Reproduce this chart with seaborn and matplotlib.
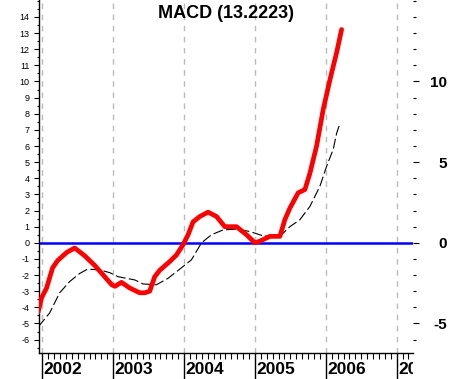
import numpy as np
import pandas as pd
import seaborn as sns
import matplotlib.pyplot as plt
from matplotlib.ticker import MultipleLocator, FixedLocator
from matplotlib.transforms import Bbox, TransformedBbox

sns.set_style('white')
plt.rcParams['font.family'] = ['Liberation Sans', 'DejaVu Sans']
plt.rcParams['axes.unicode_minus'] = False
plt.rcParams['text.color'] = 'black'
plt.rcParams['xtick.color'] = 'black'
plt.rcParams['ytick.color'] = 'black'

# MACD line (decimal year, value)
macd_x = [2001.94, 2001.99, 2002.06, 2002.145, 2002.216, 2002.343, 2002.456, 2002.597,
          2002.739, 2002.88, 2002.979, 2003.025, 2003.116, 2003.233, 2003.374, 2003.445,
          2003.515, 2003.586, 2003.657, 2003.798, 2003.893, 2003.986, 2004.057, 2004.127,
          2004.222, 2004.339, 2004.458, 2004.575, 2004.74, 2004.881, 2004.999, 2005.069,
          2005.21, 2005.352, 2005.422, 2005.493, 2005.61, 2005.705, 2005.775, 2005.87,
          2005.963, 2006.058, 2006.153, 2006.223]
macd_y = [-4.3, -3.4, -2.8, -1.55, -1.1, -0.6, -0.32, -0.8,
          -1.4, -2.1, -2.6, -2.7, -2.45, -2.8, -3.1, -3.1,
          -3.0, -2.1, -1.7, -1.16, -0.75, -0.12, 0.5, 1.3,
          1.63, 1.9, 1.63, 1.0, 1.0, 0.5, 0.0, 0.1,
          0.4, 0.4, 1.43, 2.15, 3.1, 3.3, 4.3, 6.0,
          8.26, 10.1, 11.8, 13.2223]

# signal line
sig_x = [2001.944, 2002.103, 2002.244, 2002.386, 2002.527, 2002.64, 2002.81, 2002.951,
         2003.068, 2003.304, 2003.421, 2003.61, 2003.774, 2003.986, 2004.105, 2004.246,
         2004.387, 2004.551, 2004.74, 2004.928, 2005.116, 2005.352, 2005.493, 2005.634,
         2005.775, 2005.916, 2006.011, 2006.105, 2006.153, 2006.2]
sig_y = [-5.2, -4.35, -3.1, -2.4, -1.9, -1.63, -1.68, -1.85,
         -2.1, -2.3, -2.55, -2.6, -2.2, -1.47, -1.05, 0.0,
         0.5, 0.8, 0.85, 0.7, 0.43, 0.4, 1.0, 1.43,
         2.25, 3.5, 4.74, 5.8, 6.8, 7.4]

years = [2002, 2003, 2004, 2005, 2006, 2007]
title = 'MACD (13.2223)'

macd_df = pd.DataFrame({'x': macd_x, 'y': macd_y})
sig_df = pd.DataFrame({'x': sig_x, 'y': sig_y})

fig = plt.figure(figsize=(4.51, 3.79), dpi=100)
ax = fig.add_axes([38.5 / 451, 26 / 379, 374.2 / 451, 353 / 379])

x0, x1 = 2001.946, 2007.226
y0, y1 = -6.83, 15.05
ax.set_xlim(x0, x1)
ax.set_ylim(y0, y1)

# gridlines and zero line
ax.xaxis.set_major_locator(FixedLocator(years))
ax.grid(axis='x', color='#bbbbbb', linestyle=(0, (4, 4)), linewidth=1)
ax.grid(axis='y', visible=False)
ax.set_axisbelow(True)
ax.axhline(0, color='#0000ff', lw=1.8, zorder=2)

sns.lineplot(data=sig_df, x='x', y='y', ax=ax, color='black', lw=0.8,
             linestyle=(0, (9, 3)), zorder=3)
sns.lineplot(data=macd_df, x='x', y='y', ax=ax, color='#ff0000', lw=3.4, zorder=4)
ax.set(xlabel='', ylabel='')

for s in ['top', 'right']:
    ax.spines[s].set_visible(False)
for s in ['left', 'bottom']:
    ax.spines[s].set_color('black')
    ax.spines[s].set_linewidth(1)

# x axis: monthly minor ticks, long year ticks, labels drawn next to them
months = [2002 + k / 12 for k in range(0, 63)]
ax.xaxis.set_minor_locator(FixedLocator(months))
ax.tick_params(axis='x', which='minor', direction='out', length=4.5, width=0.8,
               color='black', bottom=True)
ax.tick_params(axis='x', which='major', direction='out', length=19, width=1,
               color='black', bottom=True, labelbottom=False)
clip = TransformedBbox(Bbox([[0, -1], [1, 1]]), ax.transAxes)
for yr in years:
    t = ax.text(yr + 1.5 / 70.8, -9 / 353, str(yr), transform=ax.get_xaxis_transform(),
                ha='left', va='top', fontsize=12.5, fontweight='bold', color='black')
    t.set_clip_box(clip)
    t.set_clip_on(True)

# left y axis
ax.set_yticks(range(-6, 15))
ax.yaxis.set_minor_locator(MultipleLocator(0.5))
ax.tick_params(axis='y', which='major', direction='out', length=3.6, width=0.8,
               color='black', left=True, labelsize=6.5, pad=3)
ax.tick_params(axis='y', which='minor', direction='out', length=1.6, width=0.8,
               color='black', left=True)

# right y axis
ax2 = ax.twinx()
ax2.set_ylim(y0, y1)
for s in ax2.spines.values():
    s.set_visible(False)
ax2.yaxis.set_major_locator(FixedLocator([-5, 0, 5, 10]))
ax2.yaxis.set_minor_locator(FixedLocator(list(range(-6, 16))))
ax2.tick_params(axis='y', which='major', direction='out', length=4.3, width=0.8,
                color='black', right=True, labelsize=11, pad=20.5)
ax2.tick_params(axis='y', which='minor', direction='out', length=2.2, width=0.8,
                color='black', right=True)
for lab in ax2.get_yticklabels():
    lab.set_fontweight('bold')
    lab.set_ha('right')

ax.text(0.5, 1 - 13 / 353, title, transform=ax.transAxes, ha='center', va='center',
        fontsize=13, fontweight='bold', color='black')

fig.savefig('out.png', dpi=100)
